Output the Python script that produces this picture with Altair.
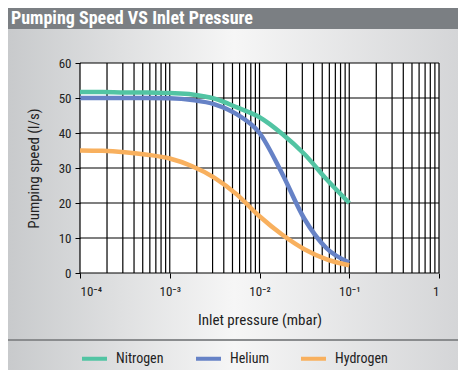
import altair as alt
import pandas as pd

# ---- data ----
pressures = [1e-4, 1.78e-4, 3.16e-4, 5.62e-4, 1e-3, 1.78e-3, 3.16e-3, 5.62e-3,
             1e-2, 1.78e-2, 3.16e-2, 5.62e-2, 1e-1]
nitrogen = [51.7, 51.7, 51.6, 51.6, 51.4, 51.0, 49.8, 47.3, 44.5, 39.8, 34.0, 26.7, 20.0]
helium = [50.0, 50.0, 50.0, 50.0, 49.9, 49.4, 48.2, 45.3, 40.0, 28.5, 15.5, 7.0, 3.0]
hydrogen = [35.0, 34.9, 34.5, 33.8, 32.7, 30.5, 27.2, 22.4, 16.2, 11.0, 6.8, 3.9, 2.2]
gases = ["Nitrogen", "Helium", "Hydrogen"]
gas_colors = ["#52c4a3", "#6682c6", "#f8b05e"]
x_decades = [1e-4, 1e-3, 1e-2, 1e-1, 1]
x_labels = ["10⁻⁴", "10⁻³", "10⁻²", "10⁻¹", "1"]
y_ticks = [0, 10, 20, 30, 40, 50, 60]
title_text = "Pumping Speed VS Inlet Pressure"
x_title = "Inlet pressure (mbar)"
y_title = "Pumping speed (l/s)"

W, H = 359, 210
FONT = "Liberation Sans Narrow, Roboto Condensed, DejaVu Sans Condensed, sans-serif"

rows = []
for g, vals in zip(gases, [nitrogen, helium, hydrogen]):
    for p, v in zip(pressures, vals):
        rows.append({"p": p, "speed": v, "gas": g})
df = pd.DataFrame(rows)

minor = []
for e in range(-4, 0):
    for k in range(1, 10):
        minor.append(k * 10 ** e)
minor.append(1)
vgrid = pd.DataFrame({"p": minor})
hgrid = pd.DataFrame({"speed": y_ticks})
one = pd.DataFrame({"a": [0]})

label_expr = "[" + ",".join("'" + s + "'" for s in x_labels) + "][round(log(datum.value)/LN10)+4]"

xscale = alt.Scale(type="log", domain=[1e-4, 1])
yscale = alt.Scale(domain=[0, 60])
xaxis = alt.Axis(values=x_decades, labelExpr=label_expr, title=x_title, grid=False,
                 domain=False, tickSize=5, tickColor="black", labelFontSize=13,
                 labelColor="#222", labelPadding=7, titleFontSize=15,
                 titleFontWeight="normal", titleColor="#222", titlePadding=14,
                 labelFont=FONT, titleFont=FONT, zindex=2)
yaxis = alt.Axis(values=y_ticks, title=y_title, grid=False, domain=False, tickSize=5,
                 tickColor="black", labelFontSize=13, labelColor="#222", labelPadding=4,
                 titleFontSize=15, titleFontWeight="normal", titleColor="#222",
                 titlePadding=17, labelFont=FONT, titleFont=FONT, zindex=2)

grad = alt.LinearGradient(
    gradient="linear", x1=0, x2=1, y1=0, y2=0,
    stops=[alt.GradientStop(color="#c8cacc", offset=0),
           alt.GradientStop(color="#f6f6f6", offset=0.5),
           alt.GradientStop(color="#d4d5d7", offset=1)])

bg = alt.Chart(one).mark_rect(fill=grad).encode(
    x=alt.value(-72), x2=alt.value(380), y=alt.value(-60), y2=alt.value(310))

bar = alt.Chart(one).mark_rect(fill="#7b7f83").encode(
    x=alt.value(-72), x2=alt.value(380), y=alt.value(-60), y2=alt.value(-34))

title = alt.Chart(one).mark_text(
    text=title_text, font=FONT, fontSize=18, fontWeight="bold", color="white",
    align="left", baseline="alphabetic").encode(x=alt.value(-69), y=alt.value(-39))

sep = alt.Chart(one).mark_rule(color="#8a8c8e", strokeWidth=2).encode(
    x=alt.value(-72), x2=alt.value(380), y=alt.value(277))

plotbg = alt.Chart(one).mark_rect(fill="white").encode(
    x=alt.value(0), x2=alt.value(W), y=alt.value(0), y2=alt.value(H))

vg = alt.Chart(vgrid).mark_rule(color="black", strokeWidth=1.2).encode(
    x=alt.X("p:Q", scale=xscale, axis=xaxis), y=alt.value(0), y2=alt.value(H))

hg = alt.Chart(hgrid).mark_rule(color="black", strokeWidth=1.2).encode(
    y=alt.Y("speed:Q", scale=yscale, axis=yaxis), x=alt.value(0), x2=alt.value(W))

lines = alt.Chart(df).mark_line(strokeWidth=4.5, interpolate="monotone").encode(
    x=alt.X("p:Q", scale=xscale, axis=xaxis),
    y=alt.Y("speed:Q", scale=yscale, axis=yaxis),
    color=alt.Color("gas:N", scale=alt.Scale(domain=gases, range=gas_colors),
                    sort=gases,
                    legend=alt.Legend(title=None, orient="none", legendX=0, legendY=281,
                                      direction="horizontal", symbolType="stroke",
                                      symbolStrokeWidth=4, symbolSize=625,
                                      labelFontSize=14, labelColor="#222",
                                      labelFont=FONT, labelOffset=7,
                                      columnPadding=24)),
)

chart = alt.layer(bg, bar, title, sep, plotbg, vg, hg, lines).properties(
    width=W, height=H,
    autosize=alt.AutoSizeParams(type="none"),
    padding={"left": 72, "top": 55, "right": 19, "bottom": 97},
).configure_view(stroke=None)

chart.save("out.html", embed_options={"renderer": "svg", "actions": False})
